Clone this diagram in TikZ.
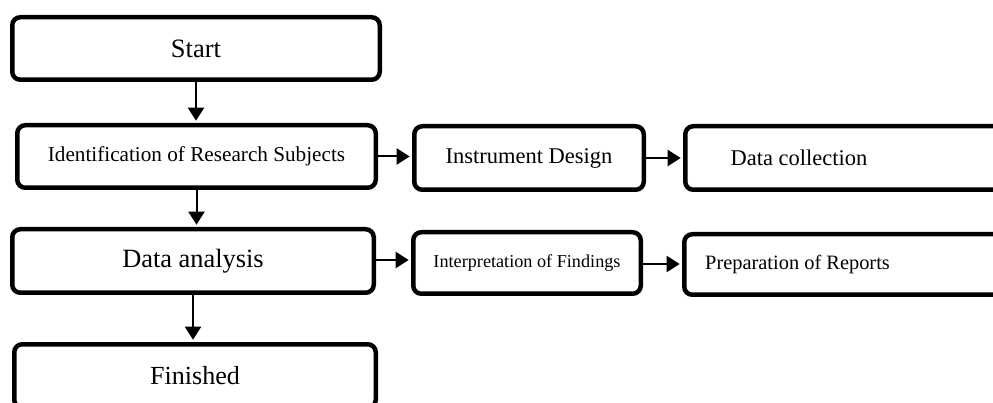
\documentclass[tikz,border=0pt]{standalone}
\usepackage{fontspec}
\setmainfont{Liberation Serif}
\usetikzlibrary{arrows.meta}
\newcommand{\fsz}[1]{\fontsize{#1}{#1}\selectfont}
\begin{document}
\begin{tikzpicture}[x=1pt,y=-1pt,
  box/.style={draw=black, line width=4.5pt, rounded corners=8pt, fill=white, inner sep=0pt, align=center},
  conn/.style={line width=2pt, -{Triangle[length=13pt,width=16pt]}, shorten >=2.3pt},
  txt/.style={inner sep=0pt}]
\useasboundingbox (0,0) rectangle (993,403);
\clip (0,0) rectangle (993,403);
\fill[white] (0,0) rectangle (993,403);
\node[box, minimum width=367.5pt, minimum height=62.5pt] (start) at (196,48.5) {\fsz{26.5}Start};
\node[box, minimum width=358.5pt, minimum height=62.5pt] (ident) at (196.5,156.5) {\fsz{21.2}Identification of Research Subjects};
\node[box, minimum width=229.5pt, minimum height=63.5pt] (instr) at (529,158) {\fsz{22.5}Instrument Design};
\node[box, minimum width=322.5pt, minimum height=63.5pt] (dcoll) at (846.5,158) {};
\node[txt] (dcolltext) at (799,158) {\fsz{22.5}Data collection};
\node[box, minimum width=361.5pt, minimum height=63.5pt] (danal) at (193,261) {\fsz{26.4}Data analysis};
\node[box, minimum width=227.5pt, minimum height=61.5pt] (interp) at (527,263) {\fsz{18.2}Interpretation of Findings};
\node[box, minimum width=323.5pt, minimum height=60.5pt] (prep) at (846,264.5) {};
\node[txt] (preptext) at (797.5,264) {\fsz{20.4}Preparation of Reports};
\node[box, minimum width=361.5pt, minimum height=63.5pt] (fin) at (195,376) {\fsz{26.1}Finished};
\draw[conn] (start.south) -- (start.south |- ident.north);
\draw[conn] (ident.south) -- (ident.south |- danal.north);
\draw[conn] (danal.south) -- (danal.south |- fin.north);
\draw[conn] (ident.east) -- (ident.east -| instr.west);
\draw[conn] (instr.east) -- (instr.east -| dcoll.west);
\draw[conn] ([yshift=1pt]danal.east) -- ([yshift=1pt]danal.east -| interp.west);
\draw[conn] ([yshift=-1pt]interp.east) -- ([yshift=-1pt]interp.east -| prep.west);
\end{tikzpicture}
\end{document}
